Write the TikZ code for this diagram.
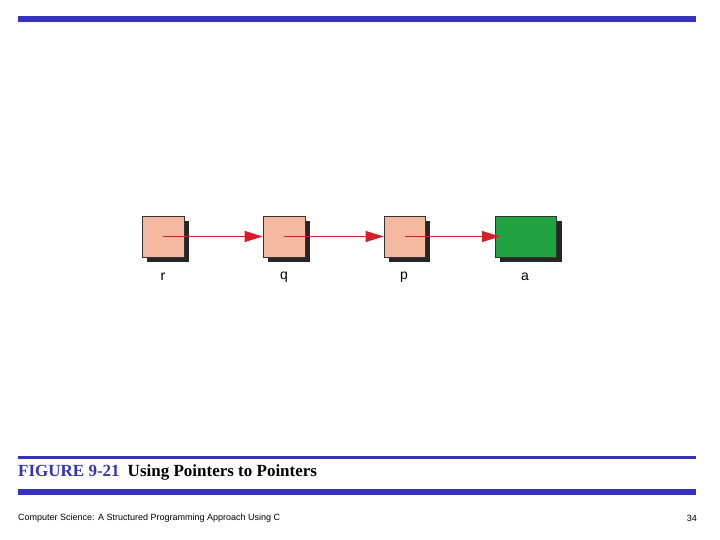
\documentclass[tikz,border=0pt]{standalone}
\usepackage{fontspec}
\setmainfont{Liberation Serif}
\newfontfamily\lsans{Liberation Sans}
\usetikzlibrary{arrows.meta}
\definecolor{barblue}{RGB}{51,51,187}
\definecolor{boxpink}{RGB}{245,185,160}
\definecolor{boxgreen}{RGB}{32,163,64}
\definecolor{arrred}{RGB}{210,30,40}
\begin{document}
\begin{tikzpicture}[x=1pt,y=-1pt,
  cell/.style={draw=black!80,line width=0.8pt,fill=boxpink,minimum width=42pt,minimum height=41pt,inner sep=0pt,
    drop shadow/.style={}},
  shadowbox/.style={fill=black!85},
  lab/.style={font=\lsans\fontsize{14}{16}\selectfont},
  ptr/.style={draw=arrred,line width=0.8pt,-{Triangle[length=18pt,width=11pt]}}]
\useasboundingbox (0,0) rectangle (720,540);
\fill[barblue] (18,16) rectangle (696,22);
% shadows
\fill[shadowbox] (147,221) rectangle (189,262);
\fill[shadowbox] (268,221) rectangle (310,262);
\fill[shadowbox] (389,221) rectangle (430,262);
\fill[shadowbox] (500,221) rectangle (562,262);
\node[cell] (r) at (163,236.5) {};
\node[cell] (q) at (284,236.5) {};
\node[cell,minimum width=41pt] (p) at (404.5,236.5) {};
\node[cell,fill=boxgreen,minimum width=61pt] (a) at (525.5,236.5) {};
\coordinate (at) at (500,236.5);
\draw[ptr] (r.center) -- (q.west);
\draw[ptr] (q.center) -- (p.west);
\draw[ptr] (p.center) -- (at);
\node[lab] (lr) at (163,277) {r};
\node[lab] (lq) at (284,277) {q};
\node[lab] (lp) at (404,277) {p};
\node[lab] (la) at (525,277) {a};
\fill[barblue] (18,456) rectangle (696,458.5);
\node[anchor=west,inner sep=0pt,font=\fontsize{17}{20}\selectfont\bfseries] (cap) at (18,472)
  {\textcolor{barblue}{FIGURE 9-21}\hspace{8pt}Using Pointers to Pointers};
\fill[barblue] (18,489) rectangle (696,495);
\node[anchor=west,inner sep=0pt,font=\lsans\fontsize{9}{11}\selectfont] (foot) at (18,518)
  {Computer Science: A Structured Programming Approach Using C};
\node[anchor=east,inner sep=0pt,font=\lsans\fontsize{9}{11}\selectfont] (num) at (697,518) {34};
\end{tikzpicture}
\end{document}
